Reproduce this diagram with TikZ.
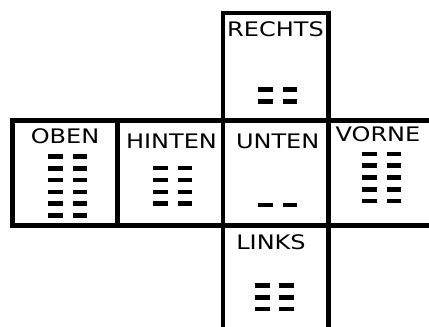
\documentclass[tikz,border=0pt]{standalone}
\usepackage{fontspec}
\setmainfont{DejaVu Sans}
\usetikzlibrary{calc}
\tikzset{
  frame/.style={line width=3.2pt, line join=miter, line cap=butt},
  lbl/.style={anchor=base, inner sep=0pt, font=\fontsize{15}{18}\selectfont},
  barbox/.style={fill=black, draw=none}
}
\newcommand{\wstretch}[1]{\scalebox{1.2}[1]{#1}}
% \barrows{x left}{y top}{rows}
\newcommand{\barrows}[3]{%
  \foreach \k in {1,...,#3}{%
    \fill[barbox] ({#1},{#2+(\k-1)*11.8}) rectangle ++(14.5,4.5);
    \fill[barbox] ({#1+24.2},{#2+(\k-1)*11.8}) rectangle ++(14.5,4.5);
  }}
\begin{document}
\begin{tikzpicture}[x=0.75pt,y=-0.75pt]
\useasboundingbox (0,0) rectangle (429,327);
% frame lines
\draw[frame] (223,327) -- (223,13) -- (328.5,13) -- (328.5,327);
\draw[frame] (429,120.5) -- (12.5,120.5) -- (12.5,225.5) -- (429,225.5);
\draw[frame] (117.5,120.5) -- (117.5,225.5);
% labels
\node[lbl] (rechts) at (275.5,36.7) {\wstretch{RECHTS}};
\node[lbl] (oben)   at (65,143.3)   {\wstretch{OBEN}};
\node[lbl] (hinten) at (171.5,148.3){\wstretch{HINTEN}};
\node[lbl] (unten)  at (277.7,148.3){\wstretch{UNTEN}};
\node[lbl] (vorne)  at (378,141.7)  {\wstretch{VORNE}};
\node[lbl] (links)  at (271,250)    {\wstretch{LINKS}};
% bars
\barrows{258.3}{87.3}{2}
\barrows{48.3}{154.3}{6}
\barrows{153.3}{166}{4}
\barrows{362.3}{151.7}{5}
\barrows{258.3}{202.7}{1}
\barrows{255}{283.3}{3}
\end{tikzpicture}
\end{document}
